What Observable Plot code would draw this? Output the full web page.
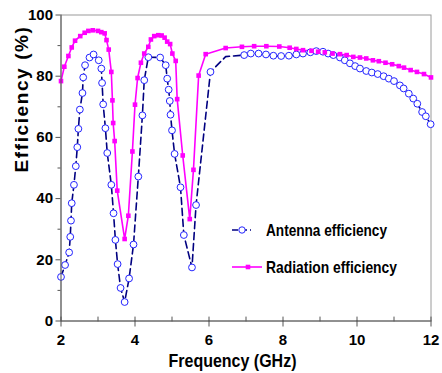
<!DOCTYPE html>
<html><head><meta charset="utf-8">
<script src="https://cdn.jsdelivr.net/npm/d3@7"></script>
<script src="https://cdn.jsdelivr.net/npm/@observablehq/plot@0.6"></script>
<style>
body{margin:0;background:#fff;}
#wrap{position:relative;width:442px;height:373px;overflow:hidden;background:#fff;}
.leg{position:absolute;font-family:"Liberation Sans",Arial,sans-serif;font-weight:bold;font-size:16.5px;color:#000;white-space:nowrap;line-height:16px;transform-origin:0 0;}
.sw{position:absolute;}
</style></head><body><div id="wrap"></div>
<script>
// Antenna efficiency (blue circles, dashed navy line)
const antFreq=[2.0,2.11,2.22,2.25,2.27,2.29,2.35,2.40,2.44,2.47,2.51,2.58,2.6,2.65,2.77,2.88,3.02,3.09,3.11,3.14,3.2,3.25,3.36,3.42,3.47,3.53,3.61,3.72,3.84,3.96,4.09,4.2,4.25,4.36,4.68,4.83,4.87,4.91,4.94,4.96,5.0,5.07,5.23,5.32,5.54,5.65,6.04,6.45,6.95,7.13,7.34,7.54,7.74,7.95,8.16,8.36,8.54,8.74,8.9,9.08,9.22,9.36,9.54,9.67,9.81,9.95,10.08,10.25,10.4,10.56,10.72,10.86,11.0,11.16,11.26,11.4,11.52,11.63,11.76,11.86,11.99];
const antEff=[14.4,18.3,22.4,27.5,32.8,38.5,44.5,50.6,56.8,62.8,69.1,74.5,79.6,83.6,86.1,87.1,85.2,82.5,77.8,70.8,63.0,54.9,44.5,35.2,26.5,18.6,10.8,6.2,13.9,25.0,47.2,67.2,78.7,86.2,86.1,83.6,79.2,75.6,71.9,67.4,62.3,54.6,43.7,28.1,17.5,37.9,81.4,86.4,86.9,87.4,87.4,87.1,86.7,86.6,86.7,87.1,87.4,87.8,88.2,88.0,87.4,86.9,86.1,85.2,84.2,83.3,82.5,81.7,81.2,80.7,80.0,79.2,78.4,77.0,76.0,74.3,72.7,71.0,68.3,66.9,64.3];
const antUnmarked=[6.45];
// Radiation efficiency (magenta squares, solid line)
const radFreq=[2.0,2.09,2.2,2.29,2.38,2.52,2.64,2.74,2.86,3.0,3.09,3.18,3.23,3.29,3.36,3.39,3.41,3.45,3.52,3.72,3.82,3.93,4.0,4.07,4.16,4.25,4.36,4.43,4.52,4.63,4.72,4.8,4.87,4.95,5.01,5.1,5.14,5.29,5.48,5.58,5.72,5.91,6.45,6.89,7.22,7.55,7.9,8.18,8.36,8.54,8.77,8.95,9.13,9.34,9.54,9.72,9.9,10.08,10.25,10.43,10.59,10.77,10.95,11.13,11.27,11.45,11.62,11.81,12.0];
const radEff=[78.4,83.1,86.6,89.4,91.6,93.1,94.2,94.8,95.0,94.8,94.4,94.0,91.8,88.7,81.4,72.1,64.7,58.8,42.6,26.8,34.4,55.4,70.7,79.4,84.4,87.4,89.6,92.0,93.1,93.4,93.3,92.6,91.3,90.5,87.4,85.0,72.5,54.1,33.3,49.4,80.2,87.2,89.2,89.6,89.8,89.8,89.7,89.3,88.9,88.5,88.3,88.0,87.8,87.4,87.2,86.9,86.3,86.1,85.8,85.2,84.9,84.4,83.9,83.3,82.8,82.0,81.4,80.7,79.6];
const seriesNames=["Antenna efficiency","Radiation efficiency"];
const xTicks=[2,4,6,8,10,12];
const xMinor=[3,5,7,9,11];
const yTicks=[0,20,40,60,80,100];
const yMinor=[10,30,50,70,90];
const xLabel="Frequency (GHz)";
const yLabel="Efficiency (%)";

const antenna=antFreq.map((f,i)=>({f,e:antEff[i]}));
const radiation=radFreq.map((f,i)=>({f,e:radEff[i]}));
const AX="#555";
const tickUp={draw(ctx,l){ctx.moveTo(0,0);ctx.lineTo(0,-l);}};

const chart=Plot.plot({
  width:442,height:373,
  marginLeft:60.5,marginRight:11.5,marginTop:14.5,marginBottom:52.5,
  x:{domain:[2,12]},
  y:{domain:[0,100]},
  style:{background:"#fff",fontFamily:'"Liberation Sans",Arial,sans-serif',color:"#000"},
  marks:[
    Plot.frame({stroke:"#9a9a9a"}),
    Plot.line(antenna,{x:"f",y:"e",stroke:"#000080",strokeWidth:1.6,strokeDasharray:"7,4"}),
    Plot.line(radiation,{x:"f",y:"e",stroke:"#ff00ff",strokeWidth:1.6}),
    Plot.dot(antenna.filter(d=>!antUnmarked.includes(d.f)),{x:"f",y:"e",r:3.4,stroke:"#2424ff",fill:"#fff",strokeWidth:1}),
    Plot.dot(radiation,{x:"f",y:"e",symbol:"square",r:2.6,fill:"#ff00ff",stroke:"none"}),
    Plot.ruleY([0],{stroke:AX}),
    Plot.ruleX([2],{stroke:AX}),
    Plot.axisY({ticks:yTicks,tickSize:5,tickPadding:3,fontSize:15,fontWeight:"bold",label:null,stroke:AX,fill:"#000"}),
    Plot.axisY({ticks:yMinor,tickSize:3,tickFormat:()=>"",label:null,stroke:AX}),
    Plot.axisX({ticks:xTicks,tickSize:6,tickPadding:7,fontSize:15,fontWeight:"bold",label:null,stroke:AX,fill:"#000"}),
    Plot.vector(xTicks.concat(xMinor),{x:d=>d,frameAnchor:"bottom",length:4,shape:tickUp,anchor:"start",stroke:AX,strokeWidth:1}),
    Plot.text([yLabel],{text:d=>d,frameAnchor:"left",rotate:-90,dx:-39,dy:4.5,fontSize:19,fontWeight:"bold",fill:"#000"}),
    Plot.text([xLabel],{text:d=>d,frameAnchor:"bottom",dx:-13.5,dy:46,lineAnchor:"bottom",fontSize:19,fontWeight:"bold",fill:"#000"})
  ]
});
const wrap=document.getElementById("wrap");
wrap.appendChild(chart);
chart.querySelectorAll("text").forEach(t=>{
  if(t.textContent===yLabel) t.style.letterSpacing="1.6px";
  if(t.textContent===xLabel){ t.setAttribute("textLength","128"); t.setAttribute("lengthAdjust","spacingAndGlyphs"); }
});

// Legend (HTML overlay)
const legRows=[
  {name:seriesNames[0],lineColor:"#000080",dash:"6,3",x1:232,x2:251,mx:242,y:230,marker:"circle",w:121},
  {name:seriesNames[1],lineColor:"#ff00ff",dash:null,x1:232,x2:262,mx:248,y:267,marker:"square",w:131}
];
legRows.forEach(r=>{
  const ns="http://www.w3.org/2000/svg";
  const s=document.createElementNS(ns,"svg");
  s.setAttribute("class","sw");s.setAttribute("width",40);s.setAttribute("height",12);
  s.style.left=(r.x1-2)+"px";s.style.top=(r.y-6)+"px";
  const ln=document.createElementNS(ns,"line");
  ln.setAttribute("x1",2);ln.setAttribute("x2",2+r.x2-r.x1);ln.setAttribute("y1",6);ln.setAttribute("y2",6);
  ln.setAttribute("stroke",r.lineColor);ln.setAttribute("stroke-width",1.6);
  if(r.dash) ln.setAttribute("stroke-dasharray",r.dash);
  s.appendChild(ln);
  let m;
  if(r.marker==="circle"){m=document.createElementNS(ns,"circle");m.setAttribute("cx",2+r.mx-r.x1);m.setAttribute("cy",6);m.setAttribute("r",3.2);m.setAttribute("fill","#fff");m.setAttribute("stroke","#2424ff");}
  else{m=document.createElementNS(ns,"rect");m.setAttribute("x",2+r.mx-r.x1-2.3);m.setAttribute("y",3.7);m.setAttribute("width",4.6);m.setAttribute("height",4.6);m.setAttribute("fill","#ff00ff");}
  s.appendChild(m);
  wrap.appendChild(s);
  const d=document.createElement("div");
  d.className="leg";d.textContent=r.name;
  d.style.left="266px";d.style.top=(r.y-8)+"px";
  wrap.appendChild(d);
  const k=r.w/d.getBoundingClientRect().width;
  d.style.transform="scaleX("+k+")";
});
</script></body></html>
